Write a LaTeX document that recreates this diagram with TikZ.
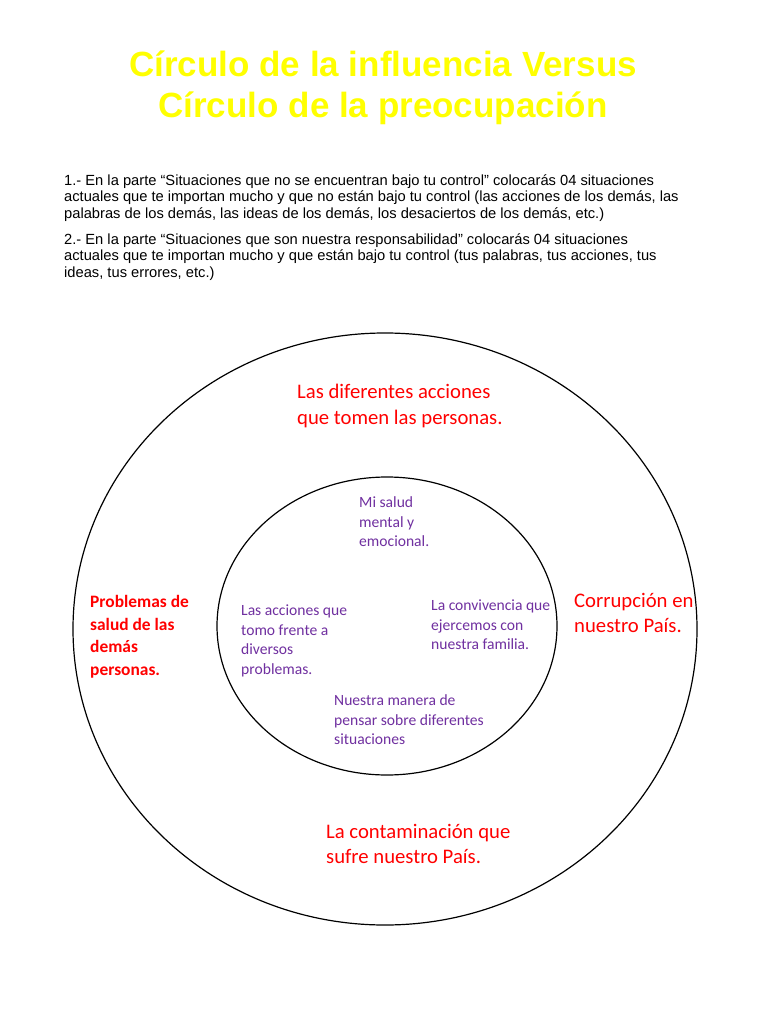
\documentclass[tikz,border=0pt]{standalone}
\usepackage{fontspec}
\usetikzlibrary{shapes.geometric}
\setmainfont{Carlito}
\newfontfamily\arialf{Liberation Sans}
\definecolor{ttlyellow}{HTML}{FFFF00}
\definecolor{outred}{HTML}{FF0000}
\definecolor{inpurple}{HTML}{7030A0}
\begin{document}
\begin{tikzpicture}[x=1pt,y=-1pt,
  ttl/.style={font=\arialf\bfseries\fontsize{35}{44}\selectfont, text=ttlyellow, inner sep=0},
  para/.style={font=\arialf\fontsize{14.7}{16.5}\selectfont, align=left, anchor=west, inner sep=0},
  outtxt/.style={font=\fontsize{20.7}{25.5}\selectfont, text=outred, align=left, anchor=west, inner sep=0},
  outbold/.style={font=\bfseries\fontsize{17.4}{22.5}\selectfont, text=outred, align=left, anchor=west, inner sep=0},
  intxt/.style={font=\fontsize{15.6}{19.5}\selectfont, text=inpurple, align=left, anchor=west, inner sep=0},
  ring/.style={draw=black, line width=1.2pt}]
\useasboundingbox (0,0) rectangle (768,1024);
\fill[white] (0,0) rectangle (768,1024);

\node[ttl] (t1) at (383,64) {Círculo de la influencia Versus};
\node[ttl] (t2) at (383,108) {Círculo de la preocupación};

\node[para] (p1) at (64,198) {1.- En la parte “Situaciones que no se encuentran bajo tu control” colocarás 04 situaciones\\actuales que te importan mucho y que no están bajo tu control (las acciones de los demás, las\\palabras de los demás, las ideas de los demás, los desaciertos de los demás, etc.)};
\node[para] (p2) at (64,257) {2.- En la parte “Situaciones que son nuestra responsabilidad” colocarás 04 situaciones\\actuales que te importan mucho y que están bajo tu control (tus palabras, tus acciones, tus\\ideas, tus errores, etc.)};

\node[ring, ellipse, minimum width=624pt, minimum height=592pt, inner sep=0] (outer) at (385,629) {};
\node[ring, ellipse, minimum width=340pt, minimum height=298pt, inner sep=0] (inner) at (387,626) {};

\node[outtxt] (o1) at (297,406) {Las diferentes acciones\\que tomen las personas.};
\node[outbold] (o2) at (90,637) {Problemas de\\salud de las\\demás\\personas.};
\node[outtxt] (o3) at (574,613) {Corrupción en\\nuestro País.};
\node[outtxt] (o4) at (326,844) {La contaminación que\\sufre nuestro País.};

\node[intxt] (i1) at (359,522) {Mi salud\\mental y\\emocional.};
\node[intxt] (i2) at (241,641) {Las acciones que\\tomo frente a\\diversos\\problemas.};
\node[intxt] (i3) at (431,625) {La convivencia que\\ejercemos con\\nuestra familia.};
\node[intxt] (i4) at (334,720) {Nuestra manera de\\pensar sobre diferentes\\situaciones};
\end{tikzpicture}
\end{document}
